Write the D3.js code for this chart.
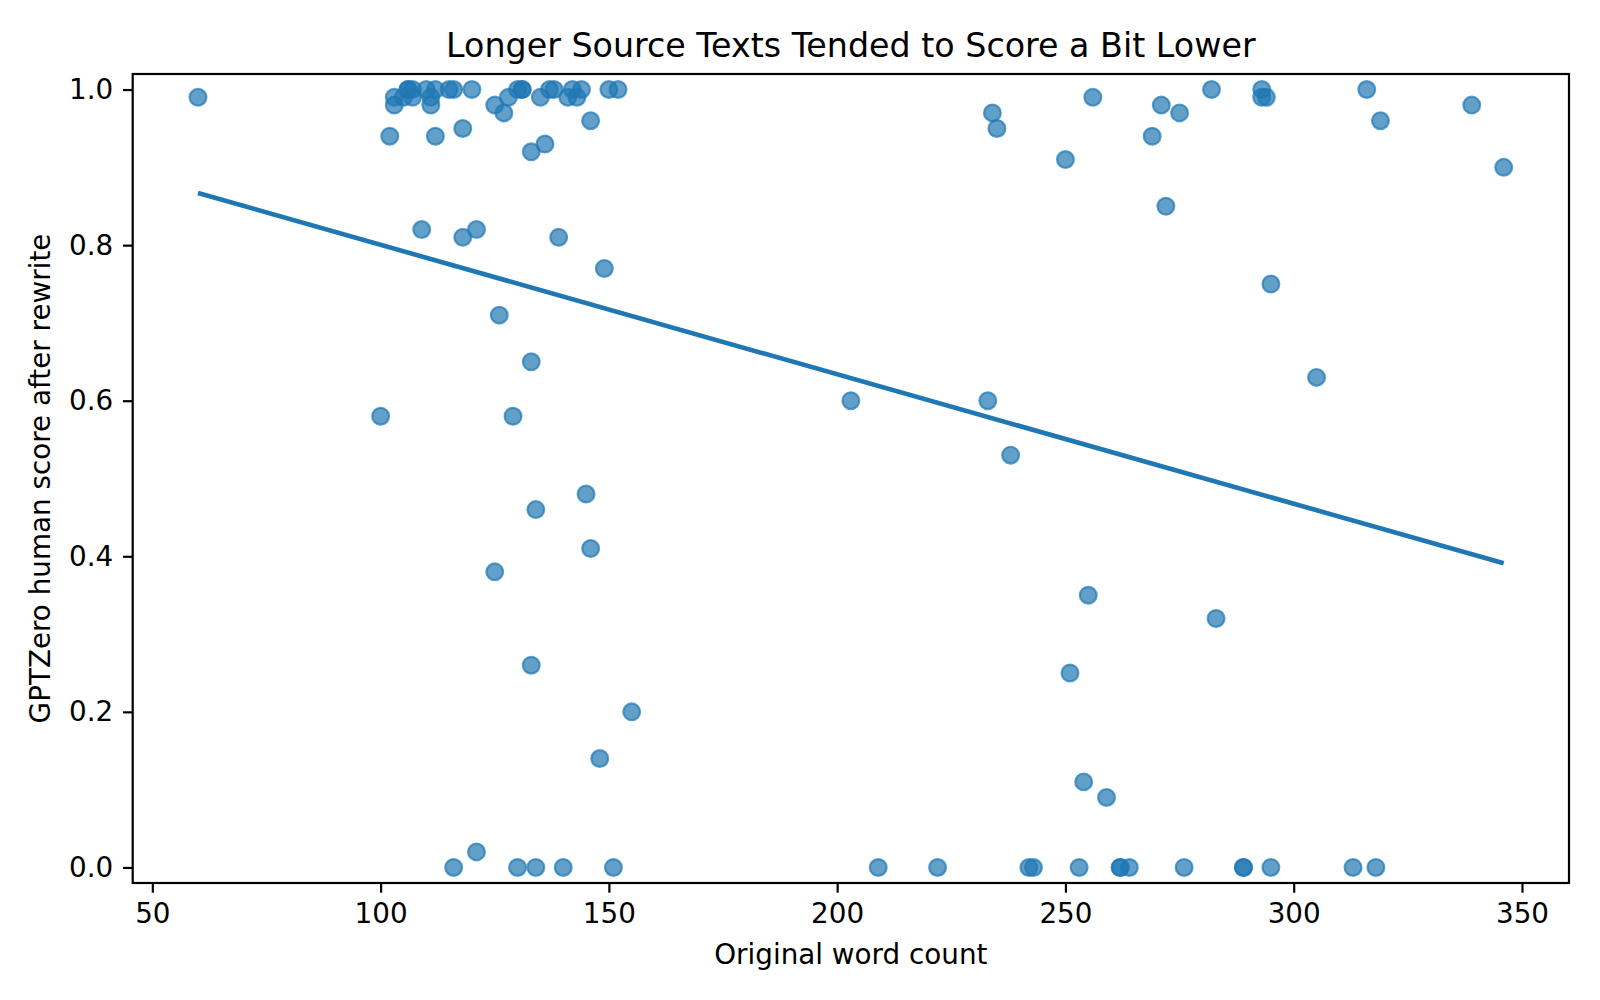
<!DOCTYPE html>
<html>
<head>
<meta charset="utf-8">
<script src="https://cdn.jsdelivr.net/npm/d3@7"></script>
<style>
  body { margin: 0; background: #fff; }
  text { font-family: "DejaVu Sans", sans-serif; fill: #000; }
</style>
</head>
<body>
<div id="chart"></div>
<script>
// Values
const wordCount = [
  60, 100, 102, 103, 103, 105, 106, 106, 107, 107, 109, 110, 111, 111, 112, 112,
  115, 116, 116, 118, 118, 120, 121, 121, 125, 125, 126, 127, 128, 129, 130, 130,
  131, 131, 133, 133, 133, 134, 134, 135, 136, 137, 138, 139, 140, 141, 142, 143,
  144, 145, 146, 146, 148, 149, 150, 151, 152, 155,
  203, 209, 222, 233, 234, 235, 238, 242, 243, 250, 251, 253, 254, 255, 256, 259,
  262, 262, 264, 269, 271, 272, 275, 276, 282, 283, 289, 289, 293, 293, 294, 295,
  295, 305, 313, 316, 318, 319, 339, 346
];
const humanScore = [
  0.99, 0.58, 0.94, 0.99, 0.98, 0.99, 1.00, 1.00, 0.99, 1.00, 0.82, 1.00, 0.99, 0.98, 1.00, 0.94,
  1.00, 1.00, 0.00, 0.95, 0.81, 1.00, 0.82, 0.02, 0.98, 0.38, 0.71, 0.97, 0.99, 0.58, 1.00, 0.00,
  1.00, 1.00, 0.92, 0.65, 0.26, 0.46, 0.00, 0.99, 0.93, 1.00, 1.00, 0.81, 0.00, 0.99, 1.00, 0.99,
  1.00, 0.48, 0.96, 0.41, 0.14, 0.77, 1.00, 0.00, 1.00, 0.20,
  0.60, 0.00, 0.00, 0.60, 0.97, 0.95, 0.53, 0.00, 0.00, 0.91, 0.25, 0.00, 0.11, 0.35, 0.99, 0.09,
  0.00, 0.00, 0.00, 0.94, 0.98, 0.85, 0.97, 0.00, 1.00, 0.32, 0.00, 0.00, 1.00, 0.99, 0.99, 0.75,
  0.00, 0.63, 0.00, 1.00, 0.00, 0.96, 0.98, 0.90
];

// trend line end points
const fitX = [60, 346];
const fitY = [0.867, 0.391];

const xTicks = [50, 100, 150, 200, 250, 300, 350];
const yTicks = [0.0, 0.2, 0.4, 0.6, 0.8, 1.0];

const titleText = "Longer Source Texts Tended to Score a Bit Lower";
const xLabel = "Original word count";
const yLabel = "GPTZero human score after rewrite";

// Setup
const width = 1600;
const height = 1000;
const plot = { left: 132.7, right: 1569, top: 74, bottom: 883 };
const blue = "#1f77b4";
const fontSize = 27.8;

const svg = d3.select("#chart")
              .append("svg")
              .attr("width", width)
              .attr("height", height);

const x = d3.scaleLinear()
            .domain([45.7, 360.3])
            .range([plot.left, plot.right]);

const y = d3.scaleLinear()
            .domain([-0.02, 1.02])
            .range([plot.bottom, plot.top]);

const points = wordCount.map((w, i) => ({ w: w, s: humanScore[i] }));

// scatter
svg.append("g")
   .attr("class", "points")
   .selectAll("circle")
   .data(points)
   .enter().append("circle")
     .attr("cx", d => x(d.w))
     .attr("cy", d => y(d.s))
     .attr("r", 8.4)
     .attr("fill", blue)
     .attr("fill-opacity", 0.7)
     .attr("stroke", blue)
     .attr("stroke-opacity", 0.7)
     .attr("stroke-width", 2.2);

// trend line
const line = d3.line()
               .x(d => x(d[0]))
               .y(d => y(d[1]));

svg.append("path")
   .datum(fitX.map((v, i) => [v, fitY[i]]))
   .attr("d", line)
   .attr("fill", "none")
   .attr("stroke", blue)
   .attr("stroke-width", 4.6);

// axes
const xAxis = svg.append("g")
   .attr("transform", `translate(0,${plot.bottom})`)
   .call(d3.axisBottom(x).tickValues(xTicks).tickFormat(d3.format("d"))
           .tickSize(9.7).tickPadding(11).tickSizeOuter(0));

const yAxis = svg.append("g")
   .attr("transform", `translate(${plot.left},0)`)
   .call(d3.axisLeft(y).tickValues(yTicks).tickFormat(d3.format(".1f"))
           .tickSize(9.7).tickPadding(9.7).tickSizeOuter(0));

[xAxis, yAxis].forEach(g => {
  g.select(".domain").remove();
  g.selectAll(".tick line").attr("stroke", "#000").attr("stroke-width", 2.2);
  g.selectAll(".tick text")
   .attr("font-family", "DejaVu Sans")
   .attr("font-size", fontSize)
   .attr("fill", "#000");
});

// frame
svg.append("rect")
   .attr("x", plot.left)
   .attr("y", plot.top)
   .attr("width", plot.right - plot.left)
   .attr("height", plot.bottom - plot.top)
   .attr("fill", "none")
   .attr("stroke", "#000")
   .attr("stroke-width", 2.2);

// labels
svg.append("text")
   .attr("x", (plot.left + plot.right) / 2)
   .attr("y", 57)
   .attr("text-anchor", "middle")
   .attr("font-size", 33.3)
   .text(titleText);

svg.append("text")
   .attr("x", (plot.left + plot.right) / 2)
   .attr("y", 964)
   .attr("text-anchor", "middle")
   .attr("font-size", fontSize)
   .text(xLabel);

svg.append("text")
   .attr("transform", `translate(50,${(plot.top + plot.bottom) / 2}) rotate(-90)`)
   .attr("text-anchor", "middle")
   .attr("font-size", fontSize)
   .text(yLabel);
</script>
</body>
</html>
